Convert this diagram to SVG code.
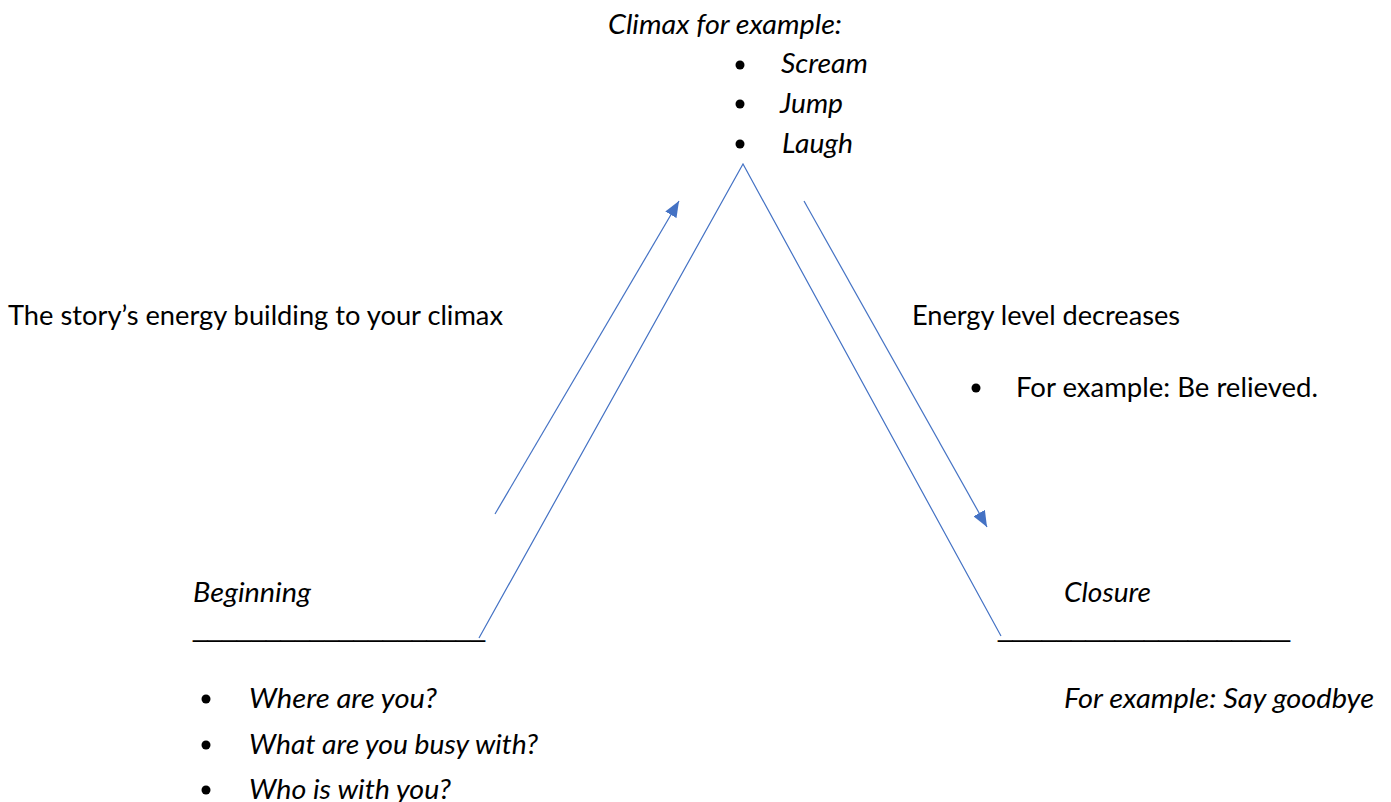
<svg xmlns="http://www.w3.org/2000/svg" width="1391" height="802" viewBox="0 0 1391 802">
<style>
text{font-family:Lato,"Liberation Sans",sans-serif;font-size:27px;fill:#000}
.i{font-style:italic}
.u{font-family:"Liberation Sans",Arial,sans-serif;font-style:normal}
.ln{stroke:#4472C4;stroke-width:1.2;fill:none}
.dot{fill:#000}
</style>
<defs>
<marker id="ah" markerUnits="userSpaceOnUse" markerWidth="16" markerHeight="13" refX="16" refY="6.5" orient="auto">
<path d="M0,0 L16,6.5 L0,13 z" fill="#4472C4"/>
</marker>
</defs>
<rect width="1391" height="802" fill="#fff"/>
<g id="connectors">
<polyline class="ln" points="479,638 743,164 1001,636"/>
<line class="ln" x1="495" y1="514" x2="679" y2="201" marker-end="url(#ah)"/>
<line class="ln" x1="804" y1="201" x2="987" y2="527" marker-end="url(#ah)"/>
</g>
<g id="climax">
<text class="i" x="608" y="34" textLength="234" lengthAdjust="spacingAndGlyphs">Climax for example:</text>
<circle class="dot" cx="740" cy="65" r="4.5"/>
<text class="i" x="781" y="73" textLength="87" lengthAdjust="spacingAndGlyphs">Scream</text>
<circle class="dot" cx="740" cy="104" r="4.5"/>
<text class="i" x="780" y="113" textLength="63" lengthAdjust="spacingAndGlyphs">Jump</text>
<circle class="dot" cx="740" cy="144" r="4.5"/>
<text class="i" x="782" y="153" textLength="71" lengthAdjust="spacingAndGlyphs">Laugh</text>
</g>
<g id="building">
<text x="8" y="325" textLength="495" lengthAdjust="spacingAndGlyphs">The story’s energy building to your climax</text>
</g>
<g id="decrease">
<text x="912" y="325" textLength="268" lengthAdjust="spacingAndGlyphs">Energy level decreases</text>
<circle class="dot" cx="976" cy="388" r="4.5"/>
<text x="1016" y="397" textLength="302" lengthAdjust="spacingAndGlyphs">For example: Be relieved.</text>
</g>
<g id="beginning">
<text class="i" x="193" y="602" textLength="118" lengthAdjust="spacingAndGlyphs">Beginning</text>
<text class="u" x="193" y="636" textLength="292" lengthAdjust="spacingAndGlyphs">____________________</text>
<circle class="dot" cx="206" cy="699" r="4.5"/>
<text class="i" x="249" y="708" textLength="188" lengthAdjust="spacingAndGlyphs">Where are you?</text>
<circle class="dot" cx="206" cy="745" r="4.5"/>
<text class="i" x="249" y="754" textLength="289" lengthAdjust="spacingAndGlyphs">What are you busy with?</text>
<circle class="dot" cx="206" cy="790" r="4.5"/>
<text class="i" x="249" y="799" textLength="202" lengthAdjust="spacingAndGlyphs">Who is with you?</text>
</g>
<g id="closure">
<text class="i" x="1064" y="602" textLength="87" lengthAdjust="spacingAndGlyphs">Closure</text>
<text class="u" x="998" y="636" textLength="292" lengthAdjust="spacingAndGlyphs">____________________</text>
<text class="i" x="1064" y="708" textLength="310" lengthAdjust="spacingAndGlyphs">For example: Say goodbye</text>
</g>
</svg>
